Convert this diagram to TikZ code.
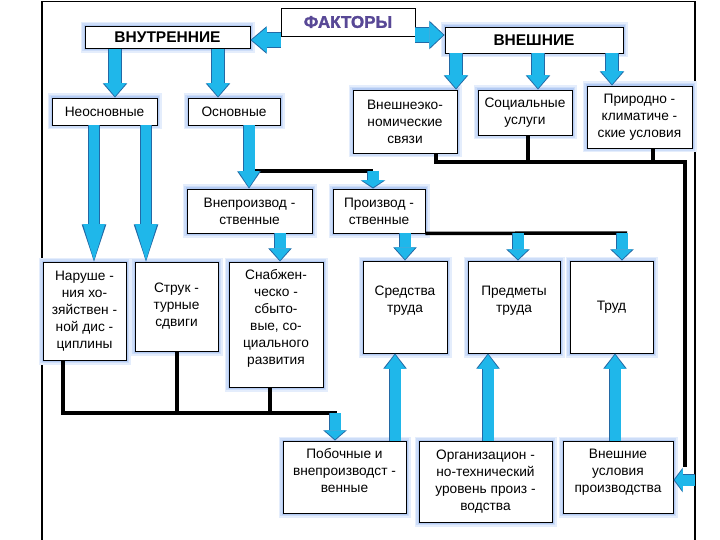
\documentclass[tikz,border=0pt]{standalone}
\usepackage{fontspec}
\setmainfont{Liberation Sans}
\newfontfamily\factfont[BoldFeatures={FakeBold=1.6}]{Liberation Sans}
\usetikzlibrary{arrows.meta}
\definecolor{arrowfill}{RGB}{31,183,234}
\definecolor{arrowedge}{RGB}{35,105,165}
\definecolor{glowa}{RGB}{228,237,252}
\definecolor{glowb}{RGB}{205,221,248}
\definecolor{glowc}{RGB}{180,203,243}
\definecolor{factcol}{RGB}{88,72,150}
% #1 shaft, #2 head width, #3 head length, #4 from, #5 to
\newcommand\barrow[5]{%
  \pgfmathsetmacro\sw{#1}\pgfmathsetmacro\swo{#1+1.8}%
  \pgfmathsetmacro\hw{#2}\pgfmathsetmacro\hwo{#2+2.6}%
  \pgfmathsetmacro\hl{#3}\pgfmathsetmacro\hlo{#3+1.2}%
  \draw[draw=arrowedge, line width=\swo pt,
        -{Triangle[width=\hwo pt,length=\hlo pt,line width=0pt]}] #4 -- #5;
  \draw[draw=arrowfill, line width=\sw pt, shorten >=1.3pt,
        -{Triangle[width=\hw pt,length=\hl pt,line width=0pt]}] #4 -- #5;}
\begin{document}
\begin{tikzpicture}[x=1pt,y=-1pt,
  plainbox/.style={draw=black, line width=0.9pt, fill=white, inner sep=0pt,
    align=center, font=\fontsize{13.7}{17}\selectfont},
  box/.style={plainbox,
    preaction={draw=glowa, line width=9pt},
    preaction={draw=glowb, line width=6pt},
    preaction={draw=glowc, line width=3pt}},
  head/.style={box, font=\bfseries\fontsize{15.5}{18}\selectfont},
  conn/.style={draw=black, line width=3.5pt},
  frameline/.style={draw=black, line width=1.3pt}]
\useasboundingbox (0,0) rectangle (720,540);
\draw[frameline] (42,540) -- (42,1.5) -- (695,1.5) -- (695,540);

% nodes
\node[plainbox, minimum width=134pt, minimum height=28pt, text=factcol,
      font=\factfont\bfseries\fontsize{17}{20}\selectfont] (fak) at (348,22) {ФАКТОРЫ};
\node[head, minimum width=165pt, minimum height=22pt] (vnutr) at (167.5,37.5) {ВНУТРЕННИЕ};
\node[head, minimum width=178pt, minimum height=26pt] (vnesh) at (534,40) {ВНЕШНИЕ};

\node[box, minimum width=105pt, minimum height=27pt] (neo) at (104.5,111.5) {Неосновные};
\node[box, minimum width=92pt, minimum height=27pt] (osn) at (234,111.5) {Основные};
\node[box, minimum width=104pt, minimum height=63pt] (vec) at (405,121.5) {Внешнеэко-\\номические\\связи};
\node[box, minimum width=94pt, minimum height=45pt] (soc) at (525,112.5) {Социальные\\услуги};
\node[box, minimum width=105pt, minimum height=62pt] (prir) at (639.5,117) {Природно -\\климатиче -\\ские условия};

\node[box, minimum width=125pt, minimum height=44pt] (vnep) at (249.5,211) {Внепроизвод -\\ственные};
\node[box, minimum width=92pt, minimum height=44pt] (proi) at (379,211) {Производ -\\ственные};

\node[box, minimum width=83pt, minimum height=98pt] (nar) at (84.5,311) {Наруше -\\ния хо-\\зяйствен -\\ной дис -\\циплины};
\node[box, minimum width=83pt, minimum height=89pt] (str) at (176.5,306.5) {Струк -\\турные\\сдвиги};
\node[box, minimum width=94pt, minimum height=125pt] (snab) at (276,324.5) {Снабжен-\\ческо -\\сбыто-\\вые, со-\\циального\\развития\\[-2pt]};
\node[box, minimum width=84pt, minimum height=92pt] (sred) at (405,307) {Средства\\труда\\[-1pt]};
\node[box, minimum width=92pt, minimum height=92pt] (pred) at (514,307) {Предметы\\труда\\[-1pt]};
\node[box, minimum width=83pt, minimum height=92pt] (trud) at (611.5,307) {Труд};

\node[box, minimum width=123pt, minimum height=72pt] (pob) at (344.5,477) {Побочные и\\внепроизводст -\\венные\\[-4pt]};
\node[box, minimum width=133pt, minimum height=81pt] (org) at (485.5,481.5) {Организацион -\\но-технический\\уровень произ -\\водства};
\node[box, minimum width=110pt, minimum height=72pt] (vus) at (618,477) {Внешние\\условия\\производства\\[-4pt]};

% black connectors
\coordinate (jA) at (373,171);
\coordinate (jB) at (685,162);
\coordinate (jC) at (335,413);
\draw[conn] (249,171) -- (jA);
\draw[conn] (proi.south east) -- (627,233);
\draw[conn] (436,0 |- vec.south) -- (436,162) -- (jB) -- (685,467);
\draw[conn] (528,0 |- soc.south) -- (528,162);
\draw[conn] (653,0 |- prir.south) -- (653,162);
\draw[conn] (63,0 |- nar.south) -- (63,413) -- (337,413);
\draw[conn] (177,0 |- str.south) -- (177,413);
\draw[conn] (270,0 |- snab.south) -- (270,413);

% block arrows
\barrow{14}{25}{15}{(fak.west |- 0,40)}{(vnutr.east |- 0,40)}
\barrow{14}{26}{14}{(fak.east |- 0,35)}{(vnesh.west |- 0,35)}
\barrow{12}{22}{13}{(115,0 |- vnutr.south)}{(115,0 |- neo.north)}
\barrow{12}{22}{13}{(218,0 |- vnutr.south)}{(218,0 |- osn.north)}
\barrow{12}{22}{13}{(456,0 |- vnesh.south)}{(456,0 |- vec.north)}
\barrow{12}{22}{13}{(538,0 |- vnesh.south)}{(538,0 |- soc.north)}
\barrow{12}{22}{13}{(612,0 |- vnesh.south)}{(612,0 |- prir.north)}
\barrow{10}{22}{36}{(94,0 |- neo.south)}{(94,0 |- nar.north)}
\barrow{10}{22}{36}{(146,0 |- neo.south)}{(146,0 |- str.north)}
\barrow{11}{21}{16}{(249,0 |- osn.south)}{(249,0 |- vnep.north)}
\barrow{11}{22}{7}{(jA)}{(jA |- proi.north)}
\barrow{11}{21}{12}{(280,0 |- vnep.south)}{(280,0 |- snab.north)}
\barrow{11}{21}{12}{(405,0 |- proi.south)}{(405,0 |- sred.north)}
\barrow{11}{21}{10}{(518,233)}{(518,0 |- pred.north)}
\barrow{11}{21}{10}{(622,233)}{(622,0 |- trud.north)}
\barrow{11}{21}{9}{(jC)}{(jC |- pob.north)}
\barrow{11}{21}{14}{(395,0 |- pob.north)}{(395,0 |- sred.south)}
\barrow{11}{21}{14}{(488,0 |- org.north)}{(488,0 |- pred.south)}
\barrow{11}{21}{14}{(615,0 |- vus.north)}{(615,0 |- trud.south)}
\barrow{11}{22}{8}{(695,480)}{(vus.east |- 0,480)}
\end{tikzpicture}
\end{document}
